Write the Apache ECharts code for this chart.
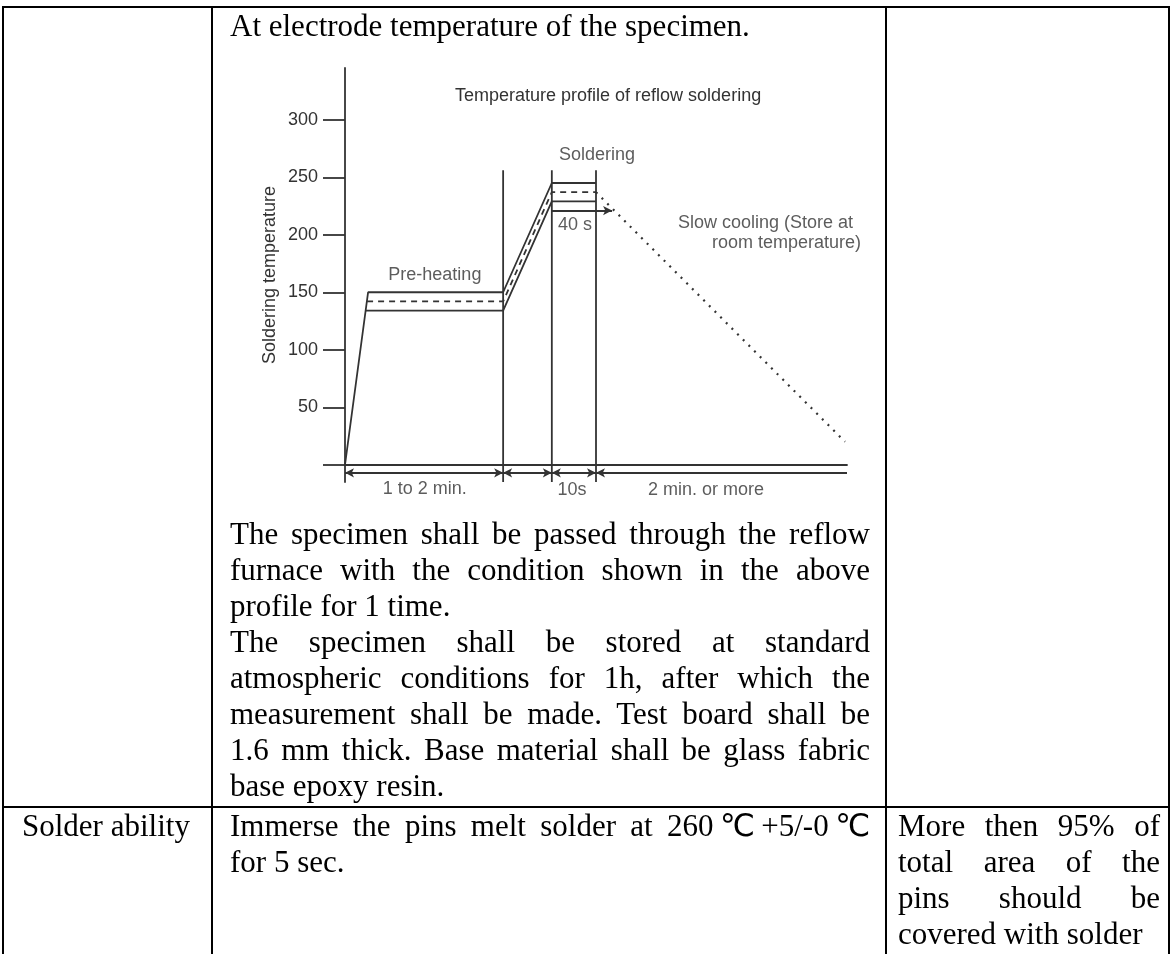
<!DOCTYPE html>
<html>
<head>
<meta charset="utf-8">
<script src="https://cdn.jsdelivr.net/npm/echarts@6/dist/echarts.min.js"></script>
<style>
  html, body { margin: 0; padding: 0; background: #fff; }
  #page { position: relative; width: 1171px; height: 954px; overflow: hidden; background: #fff; }
  .b { position: absolute; background: #000; }
  .t { position: absolute; font-family: 'Liberation Serif', 'Times New Roman', 'DejaVu Sans', 'Noto Sans CJK SC', serif; font-size: 31px; line-height: 36px; color: #000; white-space: nowrap; }
  .j { text-align: justify; text-align-last: justify; white-space: normal; }
  #chart { position: absolute; left: 0; top: 0; width: 1171px; height: 954px; }
</style>
</head>
<body>
<div id="page">
  <div id="chart"></div>
  <!-- table borders -->
  <div class="b" style="left:2px;top:6px;width:1168px;height:2px"></div>
  <div class="b" style="left:2px;top:806px;width:1168px;height:2px"></div>
  <div class="b" style="left:2px;top:6px;width:2px;height:948px"></div>
  <div class="b" style="left:211px;top:6px;width:2px;height:948px"></div>
  <div class="b" style="left:885px;top:6px;width:2px;height:948px"></div>
  <div class="b" style="left:1168px;top:6px;width:2px;height:948px"></div>
  <div id="texts"></div>
</div>
<script>
// ---- chart data (x in arbitrary time units, y in degrees C) ----
const yTickValues = [0, 50, 100, 150, 200, 250, 300];
const yLabelValues = [50, 100, 150, 200, 250, 300];
const upperProfile = [[0, 0], [4.6, 150], [31.5, 150], [41.2, 245], [50, 245]];
const nominalProfile = [[4.4, 142], [31.5, 142], [41.2, 237], [50, 237]];
const lowerProfile = [[4.1, 134], [31.5, 134], [41.2, 229], [50, 229]];
const coolingProfile = [[50, 237], [99.6, 20]];
const phaseBounds = [31.5, 41.2, 50];
const boundRange = [-15, 256];
const dimLevel = -7;
const dimSegments = [[0, 31.5], [31.5, 41.2], [41.2, 50], [50, 100]];
const dwellArrow = [[41.2, 221], [53.2, 221]];
const annotations = [
  ['Pre-heating', 17.9, 165, 'center'],
  ['Soldering', 50.2, 269.6, 'center'],
  ['40 s', 45.8, 208.7, 'center'],
  ['Slow cooling (Store at', 101.2, 210.5, 'right'],
  ['room temperature)', 102.8, 192.5, 'right'],
  ['1 to 2 min.', 15.9, -21, 'center'],
  ['10s', 45.2, -21.7, 'center'],
  ['2 min. or more', 71.9, -21.7, 'center']
];
const chartTitle = 'Temperature profile of reflow soldering';
const yName = 'Soldering temperature';

// ---- table text ----
const cellLines = [
  // [text, left, top, width(null = not justified)]
  ['At electrode temperature of the specimen.', 230, 8, null],
  ['The specimen shall be passed through the reflow', 230, 516, 640],
  ['furnace with the condition shown in the above', 230, 552, 640],
  ['profile for 1 time.', 230, 588, null],
  ['The specimen shall be stored at standard', 230, 624, 640],
  ['atmospheric conditions for 1h, after which the', 230, 660, 640],
  ['measurement shall be made. Test board shall be', 230, 696, 640],
  ['1.6 mm thick. Base material shall be glass fabric', 230, 732, 640],
  ['base epoxy resin.', 230, 768, null],
  ['Solder ability', 22, 808, null],
  ['Immerse the pins melt solder at 260\u2103+5/-0\u2103', 230, 808, 640],
  ['for 5 sec.', 230, 844, null],
  ['More then 95% of', 898, 808, 262],
  ['total area of the', 898, 844, 262],
  ['pins should be', 898, 880, 262],
  ['covered with solder', 898, 916, null]
];
const textHost = document.getElementById('texts');
cellLines.forEach(function (l) {
  const d = document.createElement('div');
  d.className = 't' + (l[3] ? ' j' : '');
  d.style.left = l[1] + 'px';
  d.style.top = l[2] + 'px';
  if (l[3]) d.style.width = l[3] + 'px';
  d.textContent = l[0];
  textHost.appendChild(d);
});

const INK = '#333333';
const FONT = "'Liberation Sans', Arial, sans-serif";
const LW = 1.8;
const chart = echarts.init(document.getElementById('chart'), null, { renderer: 'canvas' });

function lineSeries(data, type, width) {
  return {
    type: 'line', data: data, symbol: 'none', silent: true, clip: false,
    lineStyle: { color: INK, width: width || LW, type: type || 'solid' },
    z: 3
  };
}

const series = [];
series.push(lineSeries(upperProfile));
series.push(lineSeries(lowerProfile));
series.push(lineSeries(nominalProfile, [6, 5]));
series.push(lineSeries(coolingProfile, [2, 6], 2.2));
phaseBounds.forEach(function (x) {
  series.push(lineSeries([[x, boundRange[0]], [x, boundRange[1]]]));
});
// dimension arrows and dwell arrow
const mlData = dimSegments.map(function (s, i) {
  const last = i === dimSegments.length - 1;
  return [
    { coord: [s[0], dimLevel], symbol: 'arrow' },
    { coord: [s[1], dimLevel], symbol: last ? 'none' : 'arrow' }
  ];
});
mlData.push([
  { coord: dwellArrow[0], symbol: 'none' },
  { coord: dwellArrow[1], symbol: 'arrow' }
]);
series.push({
  type: 'line', data: [], silent: true,
  markLine: {
    silent: true, animation: false,
    symbolSize: [7, 9],
    lineStyle: { color: INK, width: LW, type: 'solid' },
    itemStyle: { color: INK },
    label: { show: false },
    emphasis: { disabled: true },
    data: mlData
  }
});
// annotation labels
series.push({
  type: 'scatter', symbolSize: 0, silent: true, clip: false, z: 5,
  data: annotations.map(function (a) {
    return {
      value: [a[1], a[2]], name: a[0],
      label: { align: a[3] }
    };
  }),
  label: {
    show: true, position: 'inside', formatter: '{b}',
    color: INK, fontSize: 18, fontFamily: FONT, verticalAlign: 'middle'
  }
});

chart.setOption({
  animation: false,
  backgroundColor: 'transparent',
  title: {
    text: chartTitle, left: 455, top: 87, padding: 0,
    textStyle: { color: INK, fontSize: 18, fontWeight: 'normal', fontFamily: FONT }
  },
  grid: { left: 345, right: 324, top: 68, bottom: 472, containLabel: false },
  xAxis: {
    type: 'value', min: 0, max: 100,
    axisLine: { show: true, onZero: true, lineStyle: { color: INK, width: LW } },
    axisTick: { show: false }, axisLabel: { show: false }, splitLine: { show: false }
  },
  yAxis: {
    type: 'value', min: -15, max: 345,
    name: yName, nameLocation: 'middle', nameGap: 66, nameRotate: 90,
    nameTextStyle: { color: INK, fontSize: 18, fontFamily: FONT },
    axisLine: { show: true, lineStyle: { color: INK, width: LW } },
    axisTick: { show: true, length: 22, customValues: yTickValues, lineStyle: { color: INK, width: LW } },
    axisLabel: { show: true, customValues: yLabelValues, margin: 27, color: INK, fontSize: 18, fontFamily: FONT },
    splitLine: { show: false }
  },
  series: series
});
</script>
</body>
</html>
